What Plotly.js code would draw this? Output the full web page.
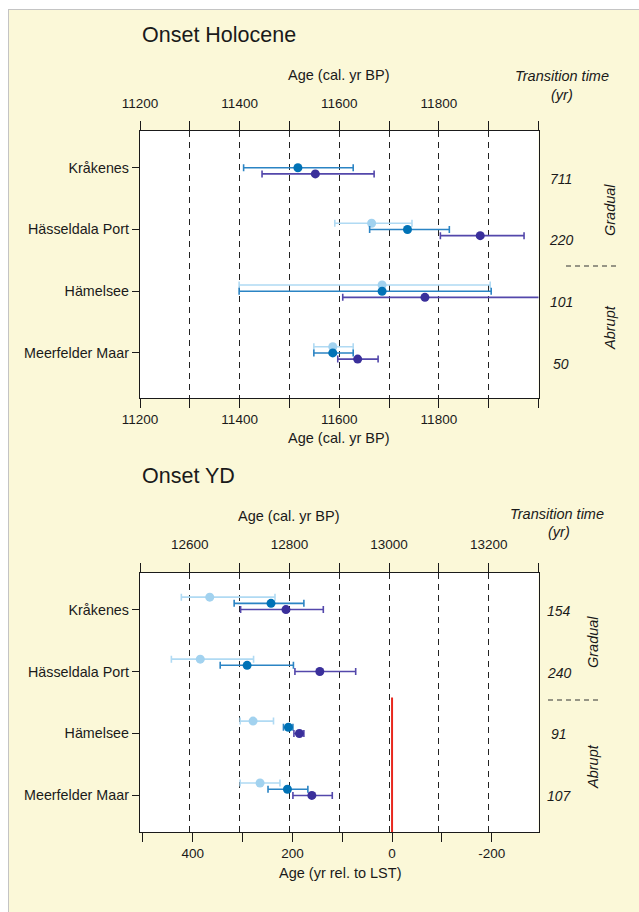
<!DOCTYPE html>
<html>
<head>
<meta charset="utf-8">
<script src="https://cdn.plot.ly/plotly-3.0.1.min.js"></script>
<style>
  html, body { margin: 0; padding: 0; background: #ffffff; }
  #bg { position: absolute; left: 8px; top: 9px; width: 640px; height: 910px;
        background: #fbf8d8; border-left: 1px solid #c4c4c4; border-top: 1px solid #c4c4c4; }
  #chart { position: absolute; left: 0; top: 0; width: 639px; height: 912px; }
</style>
</head>
<body>
<div id="bg"></div>
<div id="chart"></div>
<script>
// ---------------- DATA ----------------
const sites = ['Kråkenes', 'Hässeldala Port', 'Hämelsee', 'Meerfelder Maar'];
const sitePos = [1, 2, 3, 4];

// Onset Holocene (cal. yr BP): estimate, lower bound, upper bound (null = not available)
const holLightAge = [null, 11665, 11686, 11587];
const holLightLo  = [null, 11591, 11399, 11549];
const holLightHi  = [null, 11746, 11903, 11628];
const holMedAge   = [11517, 11737, 11686, 11587];
const holMedLo    = [11408, 11661, 11399, 11549];
const holMedHi    = [11628, 11821, 11905, 11628];
const holDarkAge  = [11552, 11883, 11772, 11637];
const holDarkLo   = [11445, 11803, 11607, 11597];
const holDarkHi   = [11670, 11971, 12040, 11678];
const holTransition = ['711', '220', '101', '50'];

// Onset YD (cal. yr BP)
const ydLightAge = [12640, 12621, 12727, 12741];
const ydLightLo  = [12583, 12563, 12701, 12701];
const ydLightHi  = [12771, 12728, 12768, 12781];
const ydMedAge   = [12763, 12715, 12798, 12796];
const ydMedLo    = [12689, 12661, 12788, 12757];
const ydMedHi    = [12829, 12808, 12807, 12837];
const ydDarkAge  = [12793, 12861, 12820, 12845];
const ydDarkLo   = [12702, 12811, 12809, 12807];
const ydDarkHi   = [12868, 12933, 12829, 12886];
const ydTransition = ['154', '240', '91', '107'];

const lstAge = 13006;            // Laacher See Tephra, cal. yr BP
const lstLineY = [2.42, 4.7];    // vertical extent of LST marker (site-axis units)

const holTicks = [11200, 11400, 11600, 11800];
const ydTicks = [12600, 12800, 13000, 13200];
const relTicks = [400, 200, 0, -200];

// ---------------- STYLE ----------------
const W = 639, H = 912;
const FONT = '"Liberation Sans", Arial, sans-serif';
const px = v => v / W;
const py = v => 1 - v / H;
const colors = {
  light: {m: '#a2d2ef', e: '#b0daf3'},
  med:   {m: '#0072b6', e: '#2b84c4'},
  dark:  {m: '#3a2f9b', e: '#5347ab'}
};

function series(ages, lo, hi, off, col, xa, ya) {
  const x = [], y = [], ep = [], em = [];
  ages.forEach((a, i) => {
    if (a === null) return;
    x.push(a); y.push(sitePos[i] + off);
    ep.push(hi[i] - a); em.push(a - lo[i]);
  });
  return {
    type: 'scatter', mode: 'markers', x, y, xaxis: xa, yaxis: ya,
    marker: {color: col.m, size: 9},
    error_x: {type: 'data', symmetric: false, array: ep, arrayminus: em,
              color: col.e, thickness: 1.6, width: 3.5},
    showlegend: false, hoverinfo: 'x'
  };
}

const data = [
  series(holLightAge, holLightLo, holLightHi, -0.1, colors.light, 'x', 'y'),
  series(holMedAge, holMedLo, holMedHi, 0, colors.med, 'x', 'y'),
  series(holDarkAge, holDarkLo, holDarkHi, 0.1, colors.dark, 'x', 'y'),
  {type: 'scatter', mode: 'lines', x: [lstAge, lstAge], y: lstLineY, xaxis: 'x3', yaxis: 'y2',
   line: {color: '#e8281e', width: 2}, showlegend: false, hoverinfo: 'skip'},
  series(ydLightAge, ydLightLo, ydLightHi, -0.2, colors.light, 'x3', 'y2'),
  series(ydMedAge, ydMedLo, ydMedHi, -0.1, colors.med, 'x3', 'y2'),
  series(ydDarkAge, ydDarkLo, ydDarkHi, 0, colors.dark, 'x3', 'y2')
];

const xDom = [px(140), px(538.5)];
const topDom = [1 - 398 / H, 1 - 131 / H];
const botDom = [1 - 832 / H, 1 - 573 / H];
const tickFont = {family: FONT, size: 13.5, color: '#1a1a1a'};

function xAxisBase(range, ticks, side, grid, extra) {
  return Object.assign({
    domain: xDom, range, side, tickmode: 'array', tickvals: ticks, ticktext: ticks.map(String),
    ticks: 'outside', ticklen: 9, tickwidth: 1, tickcolor: '#1a1a1a',
    showline: side === 'bottom', linecolor: '#1a1a1a', linewidth: 1.2,
    tickfont: tickFont, zeroline: false, fixedrange: true,
    showgrid: false,
    minor: {dtick: 100, tick0: 0, ticks: 'outside', ticklen: 9, tickcolor: '#1a1a1a',
            showgrid: grid, gridcolor: '#222222', gridwidth: 1, griddash: '6px,5px'}
  }, extra || {});
}

const yBase = (dom, range, anchor) => ({
  domain: dom, range, tickmode: 'array', tickvals: sitePos, ticktext: sites,
  ticks: 'outside', ticklen: 7, tickcolor: '#1a1a1a', showline: true, mirror: true,
  linecolor: '#1a1a1a', linewidth: 1.2, showgrid: false, zeroline: false,
  tickfont: {family: FONT, size: 14.3, color: '#1a1a1a'}, anchor, fixedrange: true
});

const ann = [];
function txt(text, x, y, size, opts) {
  ann.push(Object.assign({text, x: px(x), y: py(y), xref: 'paper', yref: 'paper',
    showarrow: false, xanchor: 'center', yanchor: 'middle',
    font: {family: FONT, size, color: '#1a1a1a'}}, opts || {}));
}
// Panel titles
txt('Onset Holocene', 140, 35, 21.5, {xanchor: 'left'});
txt('Onset YD', 140, 476, 21.5, {xanchor: 'left'});
// Axis titles
txt('Age (cal. yr BP)', 339, 75, 14.5);
txt('Age (cal. yr BP)', 339, 438, 14.5);
txt('Age (cal. yr BP)', 289, 516, 14.5);
txt('Age (yr rel. to LST)', 340, 873, 14.5);
txt('<i>Transition time</i>', 562, 76, 14.5);
txt('<i>(yr)</i>', 562, 95, 14.5);
txt('<i>Transition time</i>', 557, 514, 14.5);
txt('<i>(yr)</i>', 559, 532, 14.5);
txt('<i>Gradual</i>', 610, 210, 14.5, {textangle: -90});
txt('<i>Abrupt</i>', 610, 328, 14.5, {textangle: -90});
txt('<i>Gradual</i>', 593, 642, 14.5, {textangle: -90});
txt('<i>Abrupt</i>', 593, 767, 14.5, {textangle: -90});
// Transition times (placed at site rows)
holTransition.forEach((t, i) => ann.push({text: '<i>' + t + '</i>', x: px(561), xref: 'paper',
  y: sitePos[i], yref: 'y', yshift: -11, showarrow: false, xanchor: 'center', yanchor: 'middle',
  font: {family: FONT, size: 14, color: '#1a1a1a'}}));
ydTransition.forEach((t, i) => ann.push({text: '<i>' + t + '</i>', x: px(559), xref: 'paper',
  y: sitePos[i], yref: 'y2', yshift: -1, showarrow: false, xanchor: 'center', yanchor: 'middle',
  font: {family: FONT, size: 14, color: '#1a1a1a'}}));

const shapes = [
  {type: 'line', xref: 'paper', yref: 'paper', x0: px(566), x1: px(617), y0: py(266), y1: py(266),
   line: {color: '#333', width: 1.2, dash: '5px,4px'}},
  {type: 'line', xref: 'paper', yref: 'paper', x0: px(548), x1: px(598), y0: py(700), y1: py(700),
   line: {color: '#333', width: 1.2, dash: '5px,4px'}}
];

const layout = {
  width: W, height: H,
  margin: {l: 0, r: 0, t: 0, b: 0, autoexpand: false},
  paper_bgcolor: 'rgba(0,0,0,0)', plot_bgcolor: '#ffffff',
  showlegend: false,
  xaxis: xAxisBase([11200, 12000], holTicks, 'bottom', true, {anchor: 'y', mirror: true, showline: true}),
  xaxis2: xAxisBase([11200, 12000], holTicks, 'top', false, {anchor: 'y', overlaying: 'x', ticklabelstandoff: 8}),
  xaxis3: xAxisBase([12500, 13300], ydTicks, 'top', true, {anchor: 'y2', ticklabelstandoff: 8, showline: true}),
  xaxis4: xAxisBase([lstAge - 12500, lstAge - 13300], relTicks, 'bottom', false, {anchor: 'y2', overlaying: 'x3', showline: true}),
  yaxis: yBase(topDom, [4.73, 0.405], 'x'),
  yaxis2: yBase(botDom, [4.59, 0.41], 'x3'),
  annotations: ann,
  shapes
};
// invisible helper traces binding the secondary axes
data.push({type: 'scatter', mode: 'markers', x: [11200], y: [1], xaxis: 'x2', yaxis: 'y',
  marker: {opacity: 0}, showlegend: false, hoverinfo: 'skip'});
data.push({type: 'scatter', mode: 'markers', x: [0], y: [1], xaxis: 'x4', yaxis: 'y2',
  marker: {opacity: 0}, showlegend: false, hoverinfo: 'skip'});

Plotly.newPlot('chart', data, layout, {staticPlot: true, displayModeBar: false});
</script>
</body>
</html>
